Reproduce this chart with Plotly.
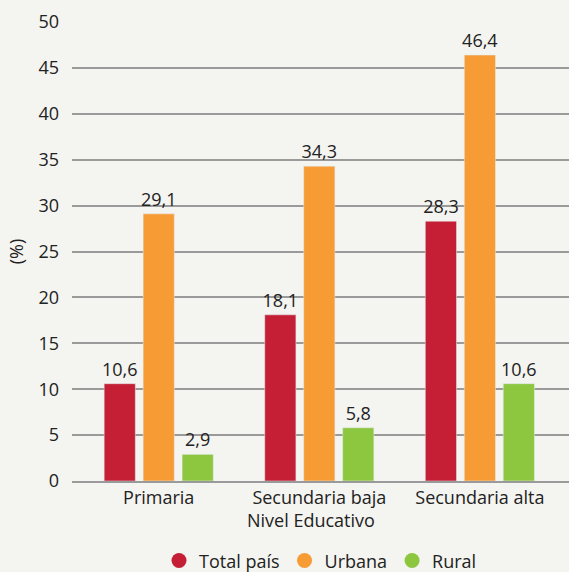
import plotly.graph_objects as go

categories = ["Primaria", "Secundaria baja", "Secundaria alta"]
series_names = ["Total país", "Urbana", "Rural"]
total_pais = [10.6, 18.1, 28.3]
urbana = [29.1, 34.3, 46.4]
rural = [2.9, 5.8, 10.6]
colors = ["#c41f35", "#f79c34", "#8dc63f"]
y_ticks = [0, 5, 10, 15, 20, 25, 30, 35, 40, 45, 50]

FONT = "Open Sans"
FS = 18
fig = go.Figure()
for name, vals, col in zip(series_names, [total_pais, urbana, rural], colors):
    fig.add_trace(go.Bar(
        x=categories, y=vals, name=name, marker_color=col,
        text=[f"{v:.1f}".replace(".", ",") for v in vals],
        textposition="outside", constraintext="none",
        textfont=dict(size=FS, color="#222222", family=FONT),
        cliponaxis=False, showlegend=False,
    ))
for name, col in zip(series_names, colors):
    fig.add_trace(go.Scatter(
        x=[None], y=[None], mode="markers", name=name,
        marker=dict(symbol="circle", size=15, color=col),
    ))

fig.update_layout(
    width=569, height=572,
    paper_bgcolor="#f4f4f0", plot_bgcolor="#f4f4f0",
    font=dict(family=FONT, size=FS, color="#222222"),
    margin=dict(l=72, r=0, t=22, b=91, autoexpand=False),
    barmode="group", bargap=0.272, bargroupgap=0.2,
    separators=",.",
    legend=dict(orientation="h", x=0.5, xanchor="center", y=-0.174, yanchor="middle",
                font=dict(size=FS, family=FONT), itemwidth=30, traceorder="normal"),
    annotations=[
        dict(text="Nivel Educativo", x=(311 - 72) / (569 - 72), xref="paper",
             y=-(520 - 481) / 459, yref="paper", yanchor="middle", xanchor="center",
             showarrow=False, font=dict(size=FS, family=FONT)),
    ],
)
fig.update_xaxes(range=[-0.54, 2.555], showgrid=False, showline=True,
                 linecolor="#9a9a9a", linewidth=1.5, ticks="", tickfont=dict(size=FS))
fig.update_yaxes(range=[0, 50], tickvals=y_ticks, showgrid=True, gridcolor="#9a9a9a",
                 gridwidth=1.5, zeroline=False, showline=False, ticks="",
                 ticklabelstandoff=12, tickfont=dict(size=FS),
                 title=dict(text="(%)", font=dict(size=FS), standoff=10))
fig.write_html("out.html", config={"displayModeBar": False},
               post_script="document.body.style.margin='0';")
